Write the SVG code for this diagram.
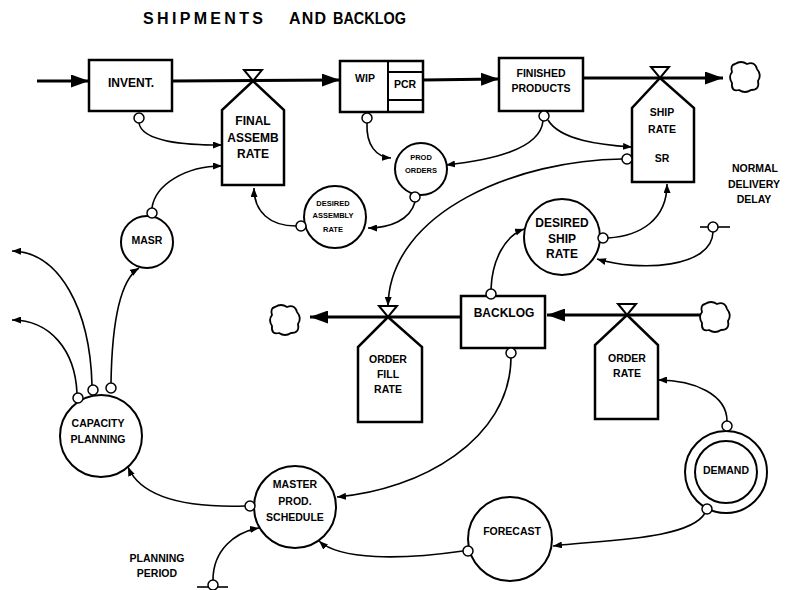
<svg xmlns="http://www.w3.org/2000/svg" width="787" height="590" viewBox="0 0 787 590">
<defs>
<style>
.t{font-family:"Liberation Sans",Arial,sans-serif;font-weight:bold;font-size:12px;fill:#000;text-anchor:middle}
.s{font-size:7.5px}
.m{font-size:10.5px}
.ti{font-size:16px;text-anchor:start}
.flow{fill:none;stroke:#000;stroke-width:3}
.box{fill:#fff;stroke:#000;stroke-width:2.5}
.rate{fill:#fff;stroke:#000;stroke-width:2.5;stroke-linejoin:miter}
.aux{fill:#fff;stroke:#000;stroke-width:2}
.info{fill:none;stroke:#000;stroke-width:1.6;marker-end:url(#sa)}
.tap{fill:#fff;stroke:#000;stroke-width:1.5}
.cloud{fill:#fff;stroke:#000;stroke-width:1.8}
</style>
<marker id="ba" markerUnits="userSpaceOnUse" markerWidth="18" markerHeight="13" refX="18" refY="6.5" orient="auto"><path d="M0,0 L18,6.5 L0,13 Z" fill="#000"/></marker>
<marker id="sa" markerUnits="userSpaceOnUse" markerWidth="9" markerHeight="7" refX="9" refY="3.5" orient="auto"><path d="M0,0 L9,3.5 L0,7 Z" fill="#000"/></marker>
<path id="cl" d="M-10,-13 Q-4,-17 2,-13 Q10,-16 12,-8 Q17,-2 13,4 Q15,13 6,13 Q0,17 -6,13 Q-14,15 -13,6 Q-17,0 -13,-5 Q-15,-12 -10,-13 Z"/>
</defs>
<rect width="787" height="590" fill="#fff"/>
<g id="title">
<text class="t ti" x="143" y="24" textLength="120" lengthAdjust="spacing">SHIPMENTS</text>
<text class="t ti" x="289" y="24" textLength="37" lengthAdjust="spacing">AND</text>
<text class="t ti" x="333" y="24" textLength="73" lengthAdjust="spacingAndGlyphs">BACKLOG</text>
</g>

<g id="flows">
<path class="flow" d="M37,81 L89,81" marker-end="url(#ba)"/>
<path class="flow" d="M172,81 L340,80" marker-end="url(#ba)"/>
<path class="flow" d="M423,80 L499,79" marker-end="url(#ba)"/>
<path class="flow" d="M583,78 L723,78" marker-end="url(#ba)"/>
<path class="flow" d="M700,315 L547,315" marker-end="url(#ba)"/>
<path class="flow" d="M461,317 L310,317" marker-end="url(#ba)"/>
</g>

<g id="connectors">
<path class="info" d="M139,123 C142,142 185,145 222,145"/>
<path class="info" d="M152,208 C155,185 185,166 222,166"/>
<path class="info" d="M296,226 C270,226 254,212 254,188"/>
<path class="info" d="M367,123 C366,145 376,157 391,158"/>
<path class="info" d="M543,121 C540,150 490,160 446,165"/>
<path class="info" d="M548,120 C560,140 600,145 632,147"/>
<path class="info" d="M415,202 C410,220 390,228 368,228"/>
<path class="info" d="M622,159 C520,160 390,210 388,306"/>
<path class="info" d="M608,238 C640,236 667,220 667,184"/>
<path class="info" d="M713,232 C712,268 640,272 597,259"/>
<path class="info" d="M491,289 C492,260 505,236 524,229"/>
<path class="info" d="M511,358 C510,440 420,490 337,497"/>
<path class="info" d="M245,506 C180,508 140,495 128,467"/>
<path class="info" d="M213,580 C213,550 235,532 259,528"/>
<path class="info" d="M463,551 C400,560 340,560 319,541"/>
<path class="info" d="M727,421 C727,395 695,380 658,380"/>
<path class="info" d="M705,513 C690,540 600,540 553,546"/>
<path class="info" d="M77,393 C75,350 50,320 12,320"/>
<path class="info" d="M92,385 C90,310 60,252 12,251"/>
<path class="info" d="M111,383 C112,320 120,280 139,268"/>
</g>

<g id="cloud-ship"><use href="#cl" class="cloud" x="745" y="77"/></g>
<g id="cloud-order-src"><use href="#cl" class="cloud" x="715" y="317"/></g>
<g id="cloud-fill-sink"><use href="#cl" class="cloud" x="285" y="320"/></g>

<g id="invent">
<rect class="box" x="89" y="60" width="83" height="51"/>
<text class="t" x="131" y="87">INVENT.</text>
<circle class="tap" cx="139" cy="118" r="5"/>
</g>

<g id="final-assemb-rate">
<path class="rate" d="M253,81 L284,110 L284,185 L222,185 L222,110 Z"/>
<path class="rate" d="M244,70 L262,70 L253,81 Z" style="stroke-width:2"/>
<text class="t" x="253" y="125">FINAL</text>
<text class="t" x="253" y="142">ASSEMB</text>
<text class="t" x="253" y="158">RATE</text>
</g>

<g id="wip">
<rect class="box" x="340" y="61" width="83" height="51"/>
<path d="M388,61 L388,112 M388,72 L423,72 M388,100 L423,100" fill="none" stroke="#000" stroke-width="2"/>
<text class="t m" x="365" y="82">WIP</text>
<text class="t m" x="405" y="88">PCR</text>
<circle class="tap" cx="367" cy="118" r="5"/>
</g>

<g id="finished-products">
<rect class="box" x="499" y="58" width="84" height="53"/>
<text class="t m" x="541" y="77">FINISHED</text>
<text class="t m" x="541" y="92">PRODUCTS</text>
<circle class="tap" cx="544" cy="116" r="5"/>
</g>

<g id="ship-rate">
<path class="rate" d="M660,78 L694,108 L694,182 L632,182 L632,108 Z"/>
<path class="rate" d="M651,67 L669,67 L660,78 Z" style="stroke-width:2"/>
<text class="t m" x="662" y="116">SHIP</text>
<text class="t m" x="662" y="133">RATE</text>
<text class="t m" x="662" y="162">SR</text>
<circle class="tap" cx="627" cy="159" r="5"/>
</g>

<g id="prod-orders">
<circle class="aux" cx="421" cy="169" r="26"/>
<text class="t s" x="421" y="160">PROD</text>
<text class="t s" x="421" y="173">ORDERS</text>
<circle class="tap" cx="415" cy="197" r="5"/>
</g>

<g id="desired-assembly-rate">
<circle class="aux" cx="335" cy="217" r="31"/>
<text class="t s" x="333" y="206">DESIRED</text>
<text class="t s" x="333" y="218">ASSEMBLY</text>
<text class="t s" x="333" y="232">RATE</text>
<circle class="tap" cx="301" cy="226" r="5"/>
</g>

<g id="masr">
<circle class="aux" cx="147" cy="242" r="26"/>
<text class="t m" x="147" y="244">MASR</text>
<circle class="tap" cx="152" cy="213" r="5"/>
</g>

<g id="normal-delivery-delay">
<text class="t m" x="755" y="172">NORMAL</text>
<text class="t m" x="754" y="188">DELIVERY</text>
<text class="t m" x="754" y="203">DELAY</text>
<path d="M700,227 L730,227" stroke="#000" stroke-width="1.6"/>
<circle class="tap" cx="713" cy="227" r="5"/>
</g>

<g id="desired-ship-rate">
<circle class="aux" cx="562" cy="237" r="38"/>
<text class="t" x="562" y="227">DESIRED</text>
<text class="t" x="562" y="243">SHIP</text>
<text class="t" x="562" y="258">RATE</text>
<circle class="tap" cx="603" cy="238" r="5"/>
</g>

<g id="backlog">
<rect class="box" x="461" y="296" width="84" height="52"/>
<text class="t" x="504" y="317">BACKLOG</text>
<circle class="tap" cx="491" cy="294" r="5"/>
<circle class="tap" cx="511" cy="353" r="5"/>
</g>

<g id="order-fill-rate">
<path class="rate" d="M388,317 L422,347 L422,422 L358,422 L358,347 Z"/>
<path class="rate" d="M379,306 L397,306 L388,317 Z" style="stroke-width:2"/>
<text class="t m" x="388" y="363">ORDER</text>
<text class="t m" x="388" y="378">FILL</text>
<text class="t m" x="388" y="393">RATE</text>
</g>

<g id="order-rate">
<path class="rate" d="M627,315 L658,345 L658,419 L595,419 L595,345 Z"/>
<path class="rate" d="M618,304 L636,304 L627,315 Z" style="stroke-width:2"/>
<text class="t m" x="627" y="362">ORDER</text>
<text class="t m" x="627" y="377">RATE</text>
</g>

<g id="capacity-planning">
<circle class="aux" cx="101" cy="436" r="41"/>
<text class="t m" x="98" y="427">CAPACITY</text>
<text class="t m" x="98" y="443">PLANNING</text>
<circle class="tap" cx="78" cy="398" r="5"/>
<circle class="tap" cx="93" cy="390" r="5"/>
<circle class="tap" cx="111" cy="388" r="5"/>
</g>

<g id="master-prod-schedule">
<circle class="aux" cx="295" cy="507" r="41"/>
<text class="t m" x="295" y="488">MASTER</text>
<text class="t m" x="295" y="505">PROD.</text>
<text class="t m" x="295" y="521">SCHEDULE</text>
<circle class="tap" cx="250" cy="506" r="5"/>
</g>

<g id="planning-period">
<text class="t m" x="157" y="562">PLANNING</text>
<text class="t m" x="157" y="577">PERIOD</text>
<path d="M197,587 L228,587" stroke="#000" stroke-width="1.6"/>
<circle class="tap" cx="213" cy="585" r="5"/>
</g>

<g id="forecast">
<circle class="aux" cx="510" cy="539" r="42"/>
<text class="t m" x="512" y="535">FORECAST</text>
<circle class="tap" cx="468" cy="551" r="5"/>
</g>

<g id="demand">
<circle class="aux" cx="726" cy="472" r="41"/>
<circle class="aux" cx="726" cy="472" r="31"/>
<text class="t m" x="726" y="474">DEMAND</text>
<circle class="tap" cx="727" cy="426" r="5"/>
<circle class="tap" cx="707" cy="509" r="5"/>
</g>
</svg>
